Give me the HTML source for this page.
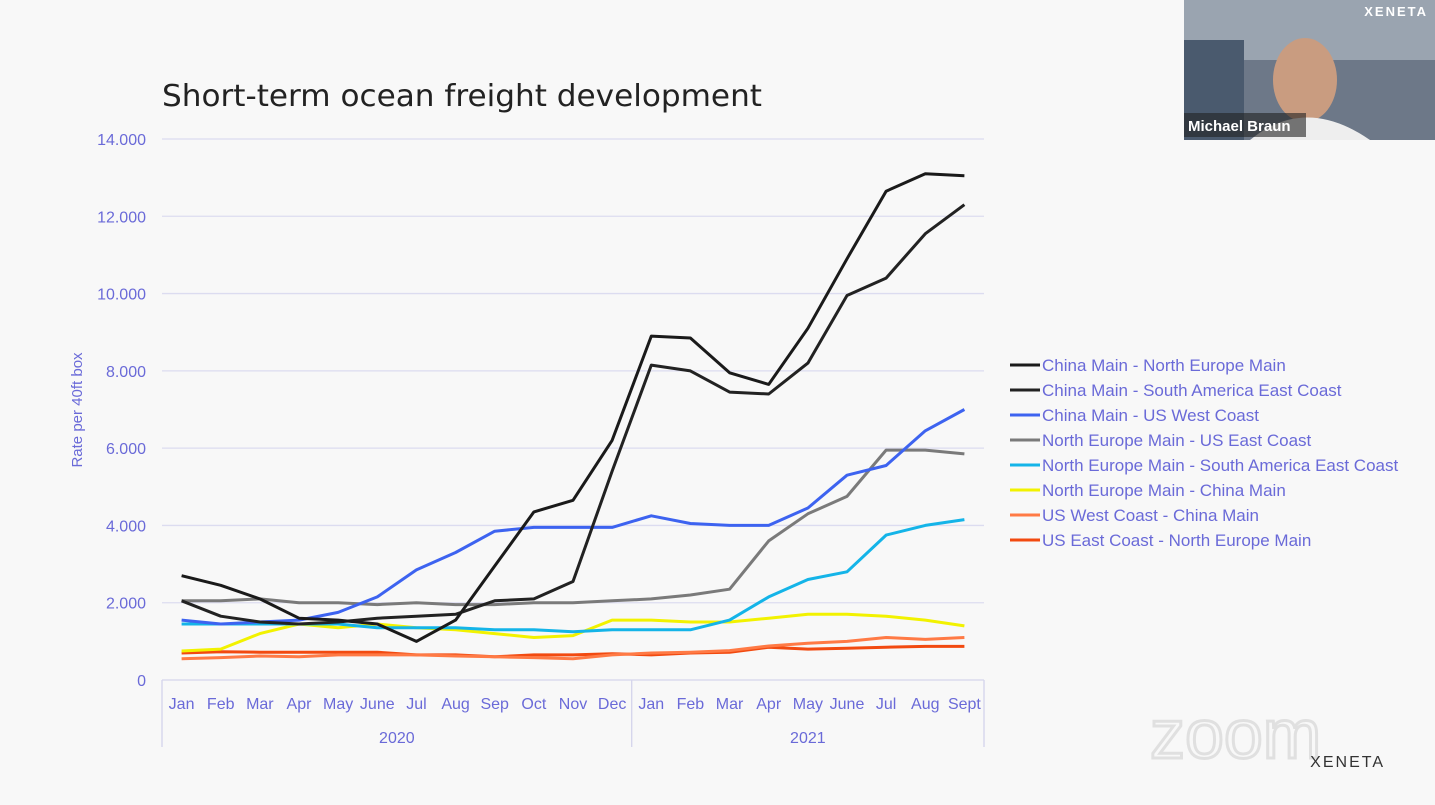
<!DOCTYPE html>
<html><head><meta charset="utf-8">
<style>
body{margin:0;background:#f7f7f7;font-family:"Liberation Sans",sans-serif;}
#wrap{position:relative;width:1435px;height:805px;overflow:hidden;background:#f8f8f8;}
</style></head>
<body>
<div id="wrap">
<svg id="chart" width="1435" height="805">
  <text x="162" y="106" font-size="30" fill="#222" font-family="DejaVu Sans, sans-serif" textLength="600" lengthAdjust="spacingAndGlyphs">Short-term ocean freight development</text>
  <text transform="translate(82,410) rotate(-90)" text-anchor="middle" font-size="15" fill="#6a6ad8">Rate per 40ft box</text>
  <g id="grid"></g><g id="xaxis"></g><g id="series"></g><g id="legend"></g>
  <g>
    <rect x="1184" y="0" width="251" height="140" fill="#6d7888"/>
    <rect x="1184" y="0" width="251" height="60" fill="#9aa4b0"/>
    <rect x="1184" y="40" width="60" height="100" fill="#4a5a6e"/>
    <ellipse cx="1305" cy="80" rx="32" ry="42" fill="#c99c80"/>
    <path d="M1250 140 Q1305 95 1370 140 Z" fill="#eee"/>
    <text x="1428" y="16" text-anchor="end" font-size="13" font-weight="bold" fill="#fff" letter-spacing="2">XENETA</text>
    <rect x="1184" y="113" width="122" height="24" fill="#222" opacity="0.6"/>
    <text x="1188" y="131" font-size="15" font-weight="bold" fill="#fff">Michael Braun</text>
  </g>
  <text x="1150" y="758" font-size="70" fill="none" stroke="#e0e0e0" stroke-width="3">zoom</text>
  <text x="1385" y="767" text-anchor="end" font-size="16" fill="#333" letter-spacing="2">XENETA</text>
</svg>
</div>
<script>
const months=["Jan","Feb","Mar","Apr","May","June","Jul","Aug","Sep","Oct","Nov","Dec","Jan","Feb","Mar","Apr","May","June","Jul","Aug","Sept"];
const yTicks=[0,2000,4000,6000,8000,10000,12000,14000];
const yTickLabels=["0","2.000","4.000","6.000","8.000","10.000","12.000","14.000"];
const years=["2020","2021"];
const seriesNames=["China Main - North Europe Main","China Main - South America East Coast","China Main - US West Coast","North Europe Main - US East Coast","North Europe Main - South America East Coast","North Europe Main - China Main","US West Coast - China Main","US East Coast - North Europe Main"];
const seriesColors=["#1a1a1a","#222222","#3d63f0","#7a7a7a","#14b4e8","#f2f200","#ff7a45","#f24a10"];
const sChinaNE=[2700,2450,2100,1600,1550,1450,1000,1550,2950,4350,4650,6200,8900,8850,7950,7650,9100,10900,12650,13100,13050];
const sChinaSA=[2050,1650,1500,1450,1500,1600,1650,1700,2050,2100,2550,5400,8150,8000,7450,7400,8200,9950,10400,11550,12300];
const sChinaUSWC=[1550,1450,1500,1550,1750,2150,2850,3300,3850,3950,3950,3950,4250,4050,4000,4000,4450,5300,5550,6450,7000];
const sNEUSEC=[2050,2050,2100,2000,2000,1950,2000,1950,1950,2000,2000,2050,2100,2200,2350,3600,4300,4750,5950,5950,5850];
const sNESA=[1450,1450,1450,1450,1450,1350,1350,1350,1300,1300,1250,1300,1300,1300,1550,2150,2600,2800,3750,4000,4150];
const sNEChina=[750,800,1200,1450,1350,1450,1350,1300,1200,1100,1150,1550,1550,1500,1500,1600,1700,1700,1650,1550,1400];
const sUSWCChina=[550,580,620,600,650,650,650,620,600,580,550,650,700,720,760,880,950,1000,1100,1050,1100];
const sUSECNE=[700,730,720,720,720,720,650,650,600,650,650,680,650,700,720,850,800,820,850,870,870];
const allSeries=[sChinaNE,sChinaSA,sChinaUSWC,sNEUSEC,sNESA,sNEChina,sUSWCChina,sUSECNE];

const NS="http://www.w3.org/2000/svg";
const X0=162,X1=984,Y0=680,Y1=139;
const yScale=v=>Y0-(v/14000)*(Y0-Y1);
const step=(X1-X0)/months.length;
const xScale=i=>X0+step*(i+0.5);
function mk(tag,attrs,parent){const e=document.createElementNS(NS,tag);for(const k in attrs)e.setAttribute(k,attrs[k]);parent.appendChild(e);return e;}
const grid=document.getElementById('grid'),xa=document.getElementById('xaxis'),sg=document.getElementById('series'),lg=document.getElementById('legend');
yTicks.forEach((t,i)=>{
  const y=yScale(t);
  if(t>0){const l=mk('line',{x1:X0,x2:X1,y1:y,y2:y,stroke:'#dcdcf0','stroke-width':1.3},grid);
  
  }
  const tx=mk('text',{x:146,y:y+6,'text-anchor':'end','font-size':16,fill:'#6a6ad8'},grid);tx.textContent=yTickLabels[i];
  
  
});
mk('line',{x1:X0,x2:X1,y1:Y0,y2:Y0,stroke:'#d4d4ec','stroke-width':1.3},xa);
[X0,X0+step*12,X1].forEach(x=>{mk('line',{x1:x,x2:x,y1:Y0,y2:747,stroke:'#d4d4ec','stroke-width':1.3},xa);});
months.forEach((m,i)=>{const t=mk('text',{x:xScale(i),y:709,'text-anchor':'middle','font-size':16,fill:'#6a6ad8'},xa);t.textContent=m;
  
  });
years.forEach((yv,i)=>{const cx=i==0?(X0+X0+step*12)/2:(X0+step*12+X1)/2;const t=mk('text',{x:cx,y:743,'text-anchor':'middle','font-size':16,fill:'#6a6ad8'},xa);t.textContent=yv;
  
  });
for(let s=allSeries.length-1;s>=0;s--){
  const d=allSeries[s].map((v,i)=>(i?'L':'M')+xScale(i).toFixed(1)+' '+yScale(v).toFixed(1)).join(' ');
  const p=mk('path',{d:d,fill:'none',stroke:seriesColors[s],'stroke-width':3,'stroke-linejoin':'round'},sg);
  
  
}
seriesNames.forEach((n,i)=>{
  const y=365+i*25;
  const g=mk('g',{},lg);
  
  
  mk('line',{x1:1010,x2:1040,y1:y,y2:y,stroke:seriesColors[i],'stroke-width':3},g);
  const t=mk('text',{x:1042,y:y+6,'font-size':17,fill:'#6a6ad8'},g);t.textContent=n;
});
</script>
</body></html>
